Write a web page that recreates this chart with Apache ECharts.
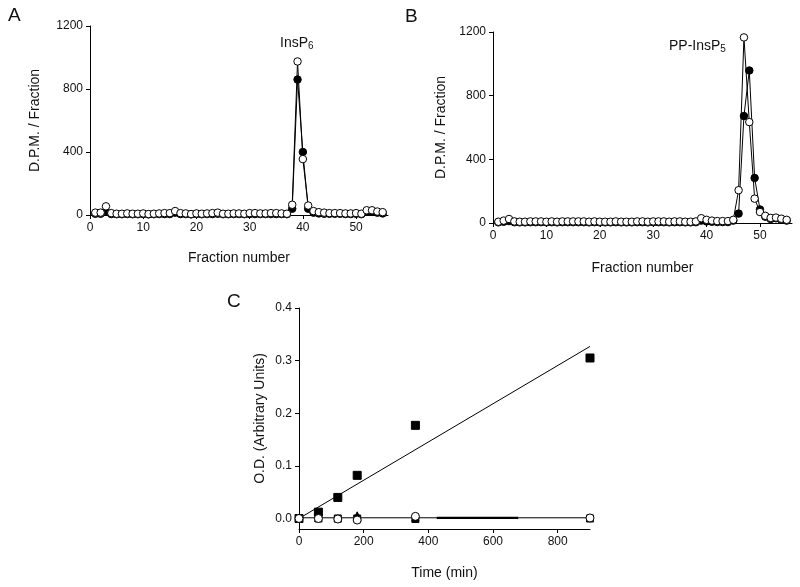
<!DOCTYPE html>
<html><head><meta charset="utf-8">
<script src="https://cdn.jsdelivr.net/npm/echarts@6/dist/echarts.min.js"></script>
<style>html,body{margin:0;padding:0;background:#fff}#c{width:800px;height:587px}</style>
</head><body><div id="c"></div>
<script>
var fractions = [1,2,3,4,5,6,7,8,9,10,11,12,13,14,15,16,17,18,19,20,21,22,23,24,25,26,27,28,29,30,31,32,33,34,35,36,37,38,39,40,41,42,43,44,45,46,47,48,49,50,51,52,53,54,55];
var aOpen = [15,15,55,12,8,8,10,8,8,10,6,8,10,12,12,25,12,10,6,10,8,10,12,15,8,8,10,10,8,12,12,10,10,12,12,10,8,65,975,355,60,25,18,15,12,12,12,10,10,12,8,30,30,22,18];
var aFilled = [8,8,20,6,5,5,6,5,5,6,4,5,6,6,6,15,6,6,4,6,5,6,6,8,5,5,6,6,5,6,6,6,6,6,6,6,5,40,860,400,40,15,10,8,8,8,8,6,6,8,5,20,20,15,10];
var bOpen = [8,15,25,10,8,8,10,10,10,8,10,8,10,10,10,10,10,8,10,8,8,8,10,8,8,8,10,10,8,10,10,10,8,10,10,8,8,10,30,20,15,12,12,12,20,206,1166,634,153,69,45,32,34,27,20];
var bFilled = [4,8,12,5,4,4,5,5,5,4,5,4,5,5,5,5,5,4,5,4,4,4,5,4,4,4,5,5,4,5,5,5,4,5,5,4,4,5,15,10,8,6,6,6,15,59,672,958,283,85,40,25,30,20,15];
var times = [0,60,120,180,360,900];
var cSquares = [0,0.012,0.040,0.082,0.177,0.305];
var cSquaresCtrl = [0,0,0,0,-0.001,0];
var cTriangles = [0,0.001,0,0.006,0.002,0.001];
var cCircles = [0,0,-0.001,-0.003,0.004,0.001];
var fitSquares = [[0,0],[900,0.327]];
var fitFlat = [[0,0.0013],[900,0.0013]];
var fitFlatBold = [[426,0.0013],[678,0.0013]];
var fractionTicks = [0,10,20,30,40,50];
var dpmTicks = [0,400,800,1200];
var timeTicks = [0,200,400,600,800];
var odTicks = [0,0.1,0.2,0.3,0.4];

function pairs(xs, ys){ return xs.map(function(x,i){return [x, ys[i]];}); }
var FONT = 'Liberation Sans';
var txt = {color:'#111', fontFamily:FONT, fontSize:12};
function xAx(idx, min, max, ticks, name, gap){
  return {gridIndex:idx, type:'value', min:min, max:max, name:name, nameLocation:'middle', nameGap:gap,
    nameTextStyle:{color:'#111', fontFamily:FONT, fontSize:14},
    axisLine:{onZero:false, lineStyle:{color:'#000', width:1}},
    axisTick:{show:true, inside:false, length:4, customValues:ticks, lineStyle:{color:'#000'}},
    axisLabel:Object.assign({customValues:ticks, margin:7, formatter:function(v){return String(v);}}, txt),
    splitLine:{show:false}};
}
function yAx(idx, min, max, ticks, name, gap, fmt){
  return {gridIndex:idx, type:'value', min:min, max:max, name:name, nameLocation:'middle', nameGap:gap,
    nameTextStyle:{color:'#111', fontFamily:FONT, fontSize:14},
    axisLine:{show:true, onZero:false, lineStyle:{color:'#000', width:1}},
    axisTick:{show:true, inside:false, length:4, customValues:ticks, lineStyle:{color:'#000'}},
    axisLabel:Object.assign({customValues:ticks, margin:7, formatter:fmt}, txt),
    splitLine:{show:false}};
}
function lineSer(xi, data, filled, z){
  return {type:'line', xAxisIndex:xi, yAxisIndex:xi, data:data, symbol:'circle', symbolSize:7.5,
    lineStyle:{color:'#000', width:1}, itemStyle:{color: filled ? '#000' : '#fff', borderColor:'#000', borderWidth:1, opacity:1},
    z:z, animation:false};
}
function scat(xi, data, sym, filled, size, z){
  return {type:'scatter', xAxisIndex:xi, yAxisIndex:xi, data:data, symbol:sym, symbolSize:size,
    itemStyle:{color: filled ? '#000' : '#fff', borderColor:'#000', borderWidth:1, opacity:1}, z:z, animation:false};
}
function fit(xi, data, w, z){
  return {type:'line', xAxisIndex:xi, yAxisIndex:xi, data:data, symbol:'none', lineStyle:{color:'#000', width:w}, z:z, animation:false};
}
var plain = function(v){return String(v);};
var chart = echarts.init(document.getElementById('c'), null, {renderer:'canvas'});
chart.setOption({
  backgroundColor:'#fff',
  animation:false,
  grid:[
    {left:90, top:26, width:298, height:189},
    {left:493, top:32, width:299, height:191},
    {left:299, top:308, width:291, height:221}
  ],
  xAxis:[
    xAx(0, 0, 56, fractionTicks, 'Fraction number', 36),
    xAx(1, 0, 56, fractionTicks, 'Fraction number', 38),
    xAx(2, 0, 900, timeTicks, 'Time (min)', 37)
  ],
  yAxis:[
    yAx(0, 0, 1200, dpmTicks, 'D.P.M. / Fraction', 48, plain),
    yAx(1, 0, 1200, dpmTicks, 'D.P.M. / Fraction', 45, plain),
    yAx(2, -0.02, 0.4, odTicks, 'O.D. (Arbitrary Units)', 32, function(v){return v.toFixed(1);})
  ],
  series:[
    lineSer(0, pairs(fractions, aFilled), true, 3),
    lineSer(0, pairs(fractions, aOpen), false, 4),
    lineSer(1, pairs(fractions, bFilled), true, 3),
    lineSer(1, pairs(fractions, bOpen), false, 4),
    fit(2, fitSquares, 1, 2),
    fit(2, fitFlat, 1, 2),
    fit(2, fitFlatBold, 2.2, 2),
    scat(2, pairs(times, cSquares), 'rect', true, 8, 3),
    scat(2, pairs(times, cSquaresCtrl), 'rect', true, 7, 3),
    scat(2, pairs(times, cTriangles), 'triangle', true, 7, 4),
    scat(2, pairs(times, cCircles), 'circle', false, 8, 5)
  ],
  graphic:[
    {type:'text', left:8, top:6, style:{text:'A', font:'19px "Liberation Sans"', fill:'#111'}},
    {type:'text', left:405, top:7, style:{text:'B', font:'19px "Liberation Sans"', fill:'#111'}},
    {type:'text', left:227, top:292, style:{text:'C', font:'19px "Liberation Sans"', fill:'#111'}},
    {type:'text', left:280, top:36, style:{text:'{a|InsP}{s|6}', rich:{a:{fontFamily:FONT, fontSize:14, fill:'#111'}, s:{fontFamily:FONT, fontSize:10, fill:'#111', padding:[7,0,0,0]}}}},
    {type:'text', left:669, top:39, style:{text:'{a|PP-InsP}{s|5}', rich:{a:{fontFamily:FONT, fontSize:14, fill:'#111'}, s:{fontFamily:FONT, fontSize:10, fill:'#111', padding:[7,0,0,0]}}}}
  ]
});
</script></body></html>
